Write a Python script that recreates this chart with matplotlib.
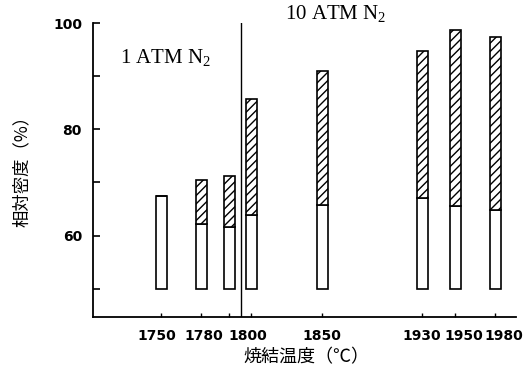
import matplotlib.pyplot as plt
from matplotlib.transforms import ScaledTranslation

# sintering temperature (deg C) and relative density (%)
temps = [1750, 1780, 1790, 1800, 1850, 1930, 1950, 1980]
labels = ['1750', '1780', '', '1800', '1850', '1930', '1950', '1980']
density_base = [67.5, 62.1, 61.7, 63.8, 65.8, 67.0, 65.5, 64.9]   # open part
density_total = [67.5, 70.4, 71.3, 85.7, 90.9, 94.7, 98.7, 97.4]  # top of hatched part
bar_floor = 50

# bar slots along the x axis (axis is not to scale)
xpos = [1.61, 2.01, 2.29, 2.51, 3.22, 4.22, 4.55, 4.95]
# hand-set nudges of the tick labels, in points
label_shift = [-3, 2, 0, -2, 0, 0, 6.5, 6.5]

plt.rcParams['font.family'] = ['DejaVu Sans']
plt.rcParams['hatch.linewidth'] = 1.0
plt.rcParams['mathtext.fontset'] = 'custom'
plt.rcParams['mathtext.rm'] = 'Liberation Serif'
plt.rcParams['mathtext.it'] = 'Liberation Serif'

fig = plt.figure(figsize=(5.26, 3.72), dpi=100)
ax = fig.add_axes([0.177, 0.148, 0.804, 0.790])

w = 0.11
hatched = [t - b for t, b in zip(density_total, density_base)]
base_h = [b - bar_floor for b in density_base]
ax.bar(xpos, base_h, bottom=bar_floor, width=w, facecolor='white',
       edgecolor='black', linewidth=1.2)
ax.bar(xpos, hatched, bottom=density_base, width=w, facecolor='white',
       edgecolor='black', linewidth=1.2, hatch='////')

ax.set_xlim(0.93, 5.16)
ax.set_ylim(44.7, 100)

# separating line between 1 atm and 10 atm runs
ax.axvline(2.41, color='black', linewidth=1.0)

ax.spines['top'].set_visible(False)
ax.spines['right'].set_visible(False)
ax.spines['left'].set_linewidth(1.3)
ax.spines['bottom'].set_linewidth(1.3)

ax.set_yticks([60, 80, 100])
ax.set_yticks([50, 70, 90], minor=True)
ax.tick_params(axis='y', which='both', direction='in', length=5, width=1.2,
               labelsize=10, pad=8)
ax.set_xticks(xpos)
ax.set_xticklabels(labels)
ax.tick_params(axis='x', direction='in', length=3, width=1.0, labelsize=10, pad=9)
for t in ax.get_yticklabels() + ax.get_xticklabels():
    t.set_fontweight('semibold')
for t, dx in zip(ax.get_xticklabels(), label_shift):
    t.set_transform(t.get_transform() + ScaledTranslation(dx / 72, 0, fig.dpi_scale_trans))

ax.text(1.2, 92.5, '1 ATM N$_2$', fontsize=15, family='Liberation Serif')
ax.text(2.85, 100.8, '10 ATM N$_2$', fontsize=15, family='Liberation Serif',
        clip_on=False)

fig.text(0.042, 0.55, '相対密度（%）', rotation=90, ha='center', va='center',
         fontsize=12.5, family=['Noto Sans CJK JP', 'DejaVu Sans'])
fig.text(0.583, 0.04, '焼結温度（℃）', ha='center', va='center',
         fontsize=13, family=['Noto Sans CJK JP', 'DejaVu Sans'])

plt.savefig('out.png')
